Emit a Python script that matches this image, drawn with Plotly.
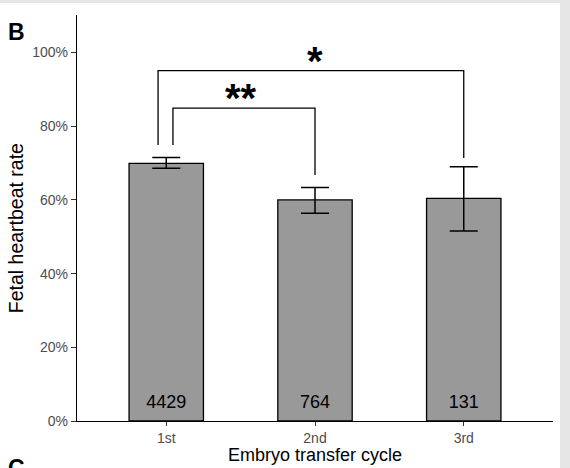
import plotly.graph_objects as go

# Panel B: fetal heartbeat rate by embryo transfer cycle
cycles     = ["1st", "2nd", "3rd"]
rate_mean  = [69.9, 60.0, 60.4]   # %
rate_upper = [71.5, 63.4, 69.0]   # upper end of error bar
rate_lower = [68.6, 56.4, 51.6]   # lower end of error bar
n_cycles   = [4429, 764, 131]

# significance brackets: (from, to, top, left leg end, right leg end, label)
sig_from   = [1, 1]
sig_to     = [3, 2]
sig_top    = [95.1, 84.9]
sig_left   = [74.9, 74.9]
sig_right  = [71.4, 66.8]
sig_label  = ["*", "**"]

yticks = [0, 20, 40, 60, 80, 100]

FONT = "Liberation Sans, Arial, sans-serif"
xpos = [1, 2, 3]

fig = go.Figure()

err_plus  = [u - m for u, m in zip(rate_upper, rate_mean)]
err_minus = [m - l for m, l in zip(rate_mean, rate_lower)]

fig.add_trace(go.Bar(
    x=xpos, y=rate_mean, width=0.5,
    marker=dict(color="#999999", line=dict(color="black", width=1.3)),
    error_y=dict(type="data", symmetric=False, array=err_plus, arrayminus=err_minus,
                 color="black", thickness=1.5, width=14),
))

# sample sizes at the foot of each bar
fig.add_trace(go.Scatter(
    x=xpos, y=[4.7] * len(xpos), mode="text",
    text=[str(n) for n in n_cycles],
    textfont=dict(family=FONT, size=18, color="black"),
))

# brackets
offs = [-0.055, 0.045]
for i in range(len(sig_from)):
    x0 = sig_from[i] + offs[i]
    x1 = sig_to[i]
    fig.add_trace(go.Scatter(
        x=[x0, x0, x1, x1],
        y=[sig_left[i], sig_top[i], sig_top[i], sig_right[i]],
        mode="lines", line=dict(color="black", width=1.3),
    ))
    fig.add_annotation(
        x=(sig_from[i] + sig_to[i]) / 2, y=sig_top[i] + 2.7,
        text="<b>" + sig_label[i] + "</b>", showarrow=False,
        xanchor="center", yanchor="middle",
        font=dict(family=FONT, size=40, color="black"),
    )

# panel letters
fig.add_annotation(x=-0.128, y=0.958, xref="paper", yref="paper", text="<b>B</b>",
                   showarrow=False, xanchor="center", yanchor="middle",
                   font=dict(family=FONT, size=23, color="black"))
fig.add_annotation(x=-0.128, y=-0.116, xref="paper", yref="paper", text="<b>C</b>",
                   showarrow=False, xanchor="center", yanchor="middle",
                   font=dict(family=FONT, size=23, color="black"))

# axis titles
fig.add_annotation(x=0.5, y=-0.084, xref="paper", yref="paper",
                   xanchor="center", yanchor="middle",
                   text="Embryo transfer cycle", showarrow=False,
                   font=dict(family=FONT, size=18, color="black"))
fig.add_annotation(x=-0.128, y=0.475, xref="paper", yref="paper", textangle=-90,
                   xanchor="center", yanchor="middle",
                   text="Fetal heartbeat rate", showarrow=False,
                   font=dict(family=FONT, size=19.5, color="black"))

# white page inside the grey frame
fig.add_shape(type="rect", xref="paper", yref="paper",
              x0=-0.17, x1=1.0147, y0=-0.2, y1=1.0296,
              fillcolor="white", line=dict(width=0), layer="below")

fig.update_xaxes(
    range=[0.4, 3.6], tickvals=xpos, ticktext=cycles,
    showline=True, linecolor="black", linewidth=1.3,
    ticks="outside", ticklen=4, tickcolor="#333333",
    tickfont=dict(family=FONT, size=14, color="#4d4d4d"),
    showgrid=False, zeroline=False, automargin=False,
)
fig.update_yaxes(
    range=[0, 110.2], tickvals=yticks, ticktext=[f"{v}%" for v in yticks],
    showline=True, linecolor="black", linewidth=1.3,
    ticks="outside", ticklen=5, tickcolor="#333333",
    tickfont=dict(family=FONT, size=14, color="#4d4d4d"),
    showgrid=False, zeroline=False, automargin=False,
)
fig.update_layout(
    width=570, height=468,
    margin=dict(l=77, r=17, t=15, b=47),
    paper_bgcolor="#e6e6e6", plot_bgcolor="rgba(0,0,0,0)",
    showlegend=False,
)

# the page's default 8px body margin would shift the figure
fig.write_html("out.html", config={"displayModeBar": False},
               post_script="document.body.style.margin='0';")
